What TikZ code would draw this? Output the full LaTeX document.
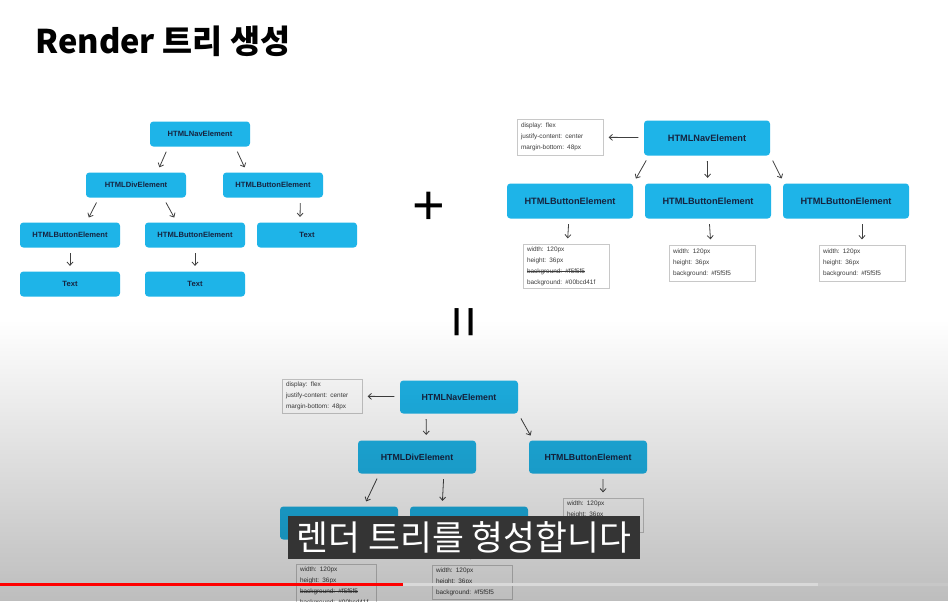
\documentclass[tikz,border=0pt]{standalone}
\usepackage{fontspec}
\setmainfont{Liberation Sans}
\newfontfamily\krfont{Noto Sans CJK KR}
\usetikzlibrary{arrows.meta,fadings}

\definecolor{elemblue}{RGB}{30,180,232}
\definecolor{elemtext}{RGB}{22,36,64}
\definecolor{propline}{RGB}{200,200,200}
\definecolor{proptext}{RGB}{60,60,60}
\definecolor{subbox}{RGB}{52,52,52}

\newsavebox\strikebox
\newcommand\strikeout[1]{\leavevmode\sbox\strikebox{#1}\rlap{\rule[0.28em]{\wd\strikebox}{0.4pt}}\usebox\strikebox}

\tikzfading[name=slidegray, top color=transparent!100, bottom color=transparent!0]

\begin{document}
\begin{tikzpicture}[x=0.75pt,y=-0.75pt,
    every node/.style={inner sep=0pt},
    elem/.style={fill=elemblue, rounded corners=2.5pt, text=elemtext},
    elemsmall/.style={elem, minimum width=75pt, minimum height=18.75pt, font=\bfseries\fontsize{5.7}{7}\selectfont},
    elembig/.style={elem, minimum width=94.5pt, minimum height=26.25pt, font=\bfseries\fontsize{6.9}{9}\selectfont},
    elemmid/.style={elem, minimum width=88.5pt, minimum height=24.75pt, font=\bfseries\fontsize{6.6}{8}\selectfont},
    props/.style={draw=propline, fill=white, text=proptext, align=left, inner xsep=3pt, font=\fontsize{4.8}{8.2}\selectfont},
    propsbig/.style={props, text width=58.5pt, minimum height=27pt},
    propsmid/.style={props, text width=54pt, minimum height=25.5pt},
    arr/.style={draw=black!75, line width=0.6pt, -{Straight Barb[length=2.5pt,width=4.5pt]}, shorten <=4pt, shorten >=4pt}
]
    \useasboundingbox (0,0) rectangle (948,601);
    \fill[white] (0,0) rectangle (948,601);

    \node[anchor=base west, font=\krfont\bfseries\fontsize{24.5}{28}\selectfont] (title) at (35,53) {Render 트리 생성};

    % left tree
    \node[elemsmall] (navL) at (200,134) {HTMLNavElement};
    \node[elemsmall] (divL) at (136,185) {HTMLDivElement};
    \node[elemsmall] (btnL) at (273,185) {HTMLButtonElement};
    \node[elemsmall] (btnLa) at (70,235) {HTMLButtonElement};
    \node[elemsmall] (btnLb) at (195,235) {HTMLButtonElement};
    \node[elemsmall] (txtLc) at (307,235) {Text};
    \node[elemsmall] (txtLa) at (70,284) {Text};
    \node[elemsmall] (txtLb) at (195,284) {Text};

    \draw[arr] (navL.202) -- (divL.31);
    \draw[arr] (navL.-20) -- (btnL.154);
    \draw[arr] (divL.199) -- (btnLa.38);
    \draw[arr] (divL.-25) -- (btnLb.145);
    \draw[arr] (btnL.-25) -- (txtLc.119);
    \draw[arr] (btnLa) -- (txtLa);
    \draw[arr] (btnLb) -- (txtLb);

    \node[font=\fontsize{42}{42}\selectfont] (plus) at (429,208) {+};
    \node[font=\fontsize{42}{42}\selectfont, rotate=90] (equal) at (469,322) {=};

    % right tree
    \node[elembig] (navR) at (707,138) {HTMLNavElement};
    \node[propsbig] (cssNavR) at (560,137) {display: flex\\justify-content: center\\margin-bottom: 48px};
    \node[elembig] (btnR1) at (570,201) {HTMLButtonElement};
    \node[elembig] (btnR2) at (708,201) {HTMLButtonElement};
    \node[elembig] (btnR3) at (846,201) {HTMLButtonElement};
    \node[propsbig, minimum height=33pt] (cssR1) at (566,266) {width: 120px\\height: 36px\\\strikeout{background: \#f5f5f5}\\background: \#00bcd41f};
    \node[propsbig] (cssR2) at (712,263) {width: 120px\\height: 36px\\background: \#f5f5f5};
    \node[propsbig] (cssR3) at (862,263) {width: 120px\\height: 36px\\background: \#f5f5f5};

    \draw[arr] (navR) -- (cssNavR);
    \draw[arr] (navR.197) -- (btnR1.north east);
    \draw[arr] (navR) -- (btnR2);
    \draw[arr] (navR.south east) -- (btnR3.164);
    \draw[arr] (btnR1) -- (cssR1);
    \draw[arr] (btnR2) -- (cssR2);
    \draw[arr] (btnR3.south -| cssR3) -- (cssR3);

    % merged tree
    \node[elemmid] (navB) at (459,397) {HTMLNavElement};
    \node[propsmid] (cssNavB) at (322,396) {display: flex\\justify-content: center\\margin-bottom: 48px};
    \node[elemmid] (divB) at (417,457) {HTMLDivElement};
    \node[elemmid] (btnB) at (588,457) {HTMLButtonElement};
    \node[propsmid] (cssB) at (603,515) {width: 120px\\height: 36px\\background: \#f5f5f5};
    \node[elemmid] (btnB1) at (339,523) {HTMLButtonElement};
    \node[elemmid] (btnB2) at (469,523) {HTMLButtonElement};
    \node[propsmid, minimum height=33pt] (cssB1) at (336,586) {width: 120px\\height: 36px\\\strikeout{background: \#f5f5f5}\\background: \#00bcd41f};
    \node[propsmid] (cssB2) at (472,582) {width: 120px\\height: 36px\\background: \#f5f5f5};

    \draw[arr] (navB) -- (cssNavB);
    \draw[arr] (navB.207) -- (divB.61);
    \draw[arr] (navB.south east) -- (btnB.163);
    \draw[arr] (divB.204) -- (btnB1.34);
    \draw[arr] (divB.-32) -- (btnB2.148);
    \draw[arr] (btnB.-48) -- (cssB);
    \draw[arr] (btnB1) -- (cssB1);
    \draw[arr] (btnB2) -- (cssB2);

    % video overlay
    \fill[black, opacity=0.26, path fading=slidegray] (0,320) rectangle (948,601);
    \node[fill=subbox, text=white, font=\krfont\fontsize{26}{30}\selectfont, minimum width=264pt, minimum height=32.25pt] (caption) at (464,537.5) {렌더 트리를 형성합니다};
    \fill[red] (0,583) rectangle (403,586);
    \fill[white!85!black] (403,583) rectangle (818,586);
    \fill[white!78!black] (818,583) rectangle (948,586);
\end{tikzpicture}
\end{document}
